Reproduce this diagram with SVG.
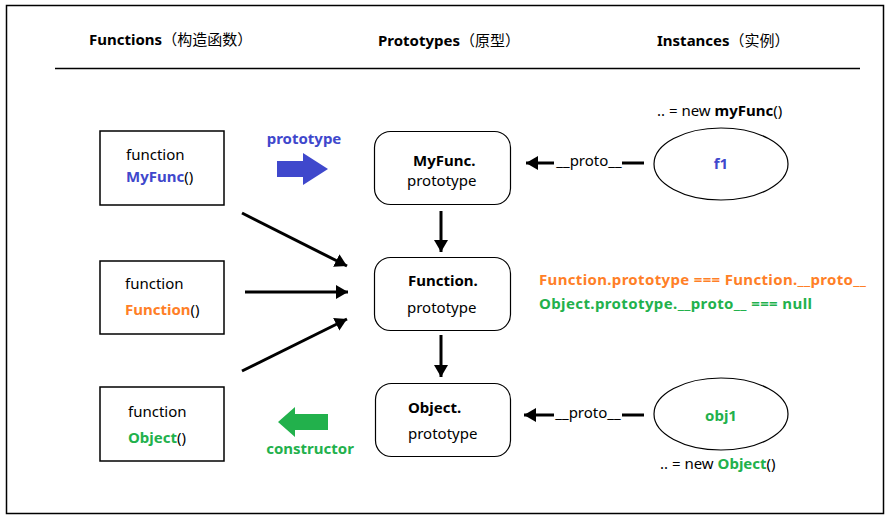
<svg xmlns="http://www.w3.org/2000/svg" width="892" height="520" viewBox="0 0 892 520">
<style>
text{font-family:"Noto Sans","Noto Sans CJK SC",sans-serif;font-size:15px;fill:#000}
.b{font-weight:bold}
.blue{fill:#3F48CC}
.org{fill:#FF7F27}
.grn{fill:#22B14C}
.box{fill:#fff;stroke:#000;stroke-width:1.5}
.rbox{fill:#fff;stroke:#000;stroke-width:1.2}
.ell{fill:#fff;stroke:#000;stroke-width:1.2}
.con{stroke:#000;stroke-width:3;fill:none}
</style>
<defs>
<marker id="ah" markerUnits="userSpaceOnUse" markerWidth="14" markerHeight="14" refX="12" refY="7" orient="auto">
<path d="M0,0 L12,7 L0,14 Z" fill="#000"/>
</marker>
</defs>
<rect x="6.5" y="5.5" width="877" height="508" fill="#fff" stroke="#000" stroke-width="1.5"/>
<g id="headers">
<text x="89" y="45"><tspan class="b">Functions</tspan><tspan font-size="15">（构造函数）</tspan></text>
<text x="378" y="46"><tspan class="b">Prototypes</tspan><tspan font-size="15">（原型）</tspan></text>
<text x="657" y="46"><tspan class="b">Instances</tspan><tspan font-size="15">（实例）</tspan></text>
<line x1="55" y1="68.5" x2="860" y2="68.5" stroke="#000" stroke-width="1.5"/>
</g>
<g id="fn-myfunc">
<rect class="box" x="100" y="131" width="124" height="74"/>
<text x="126" y="160" font-size="15.5">function</text>
<text x="126" y="182" font-size="15.5"><tspan class="b blue">MyFunc</tspan>()</text>
</g>
<g id="fn-function">
<rect class="box" x="100" y="261" width="124" height="73"/>
<text x="125" y="289" font-size="15.5">function</text>
<text x="125" y="315" font-size="15.5"><tspan class="b org">Function</tspan>()</text>
</g>
<g id="fn-object">
<rect class="box" x="100" y="387" width="124" height="74"/>
<text x="128" y="417" font-size="15.5">function</text>
<text x="128" y="443" font-size="15.5"><tspan class="b grn">Object</tspan>()</text>
</g>
<g id="proto-myfunc">
<rect class="rbox" x="374.5" y="131.5" width="136" height="73" rx="16"/>
<text x="413" y="166" class="b" font-size="16">MyFunc.</text>
<text x="407" y="186" font-size="16">prototype</text>
</g>
<g id="proto-function">
<rect class="rbox" x="374.5" y="257.5" width="136" height="73" rx="16"/>
<text x="408" y="286" class="b">Function.</text>
<text x="407" y="313" font-size="16">prototype</text>
</g>
<g id="proto-object">
<rect class="rbox" x="375.5" y="383.5" width="135" height="73" rx="16"/>
<text x="408" y="413" class="b">Object.</text>
<text x="408" y="439" font-size="16">prototype</text>
</g>
<g id="inst-f1">
<ellipse class="ell" cx="721" cy="164" rx="67" ry="36"/>
<text x="721" y="169" text-anchor="middle" class="b blue">f1</text>
<text x="657" y="116">.. = new <tspan class="b">myFunc</tspan>()</text>
</g>
<g id="inst-obj1">
<ellipse class="ell" cx="721" cy="414" rx="67" ry="36"/>
<text x="721" y="421" text-anchor="middle" class="b grn">obj1</text>
<text x="660" y="469">.. = new <tspan class="b grn">Object</tspan>()</text>
</g>
<g id="notes">
<text x="539" y="285" class="b org" textLength="327" lengthAdjust="spacing">Function.prototype === Function.__proto__</text>
<text x="539" y="309" class="b grn" textLength="273" lengthAdjust="spacing">Object.prototype.__proto__ === null</text>
</g>
<g id="connectors">
<line class="con" x1="441" y1="211" x2="441" y2="252" marker-end="url(#ah)"/>
<line class="con" x1="441" y1="335" x2="441" y2="377" marker-end="url(#ah)"/>
<line class="con" x1="242" y1="213" x2="347" y2="266" marker-end="url(#ah)"/>
<line class="con" x1="245" y1="292" x2="348" y2="292" marker-end="url(#ah)"/>
<line class="con" x1="242" y1="371" x2="347" y2="319" marker-end="url(#ah)"/>
<line class="con" x1="644" y1="163" x2="622" y2="163"/>
<line class="con" x1="554" y1="163" x2="526" y2="163" marker-end="url(#ah)"/>
<text x="589" y="166" text-anchor="middle" font-size="13">__proto__</text>
<line class="con" x1="644" y1="415" x2="622" y2="415"/>
<line class="con" x1="554" y1="415" x2="524" y2="415" marker-end="url(#ah)"/>
<text x="588" y="418" text-anchor="middle" font-size="13">__proto__</text>
<path d="M277,161 H303 V153 L328,169 L303,185 V177 H277 Z" fill="#3F48CC"/>
<text x="304" y="144" text-anchor="middle" class="b blue">prototype</text>
<path d="M328,414 H295 V407 L278,422 L295,437 V430 H328 Z" fill="#22B14C"/>
<text x="310" y="454" text-anchor="middle" class="b grn">constructor</text>
</g>
</svg>
